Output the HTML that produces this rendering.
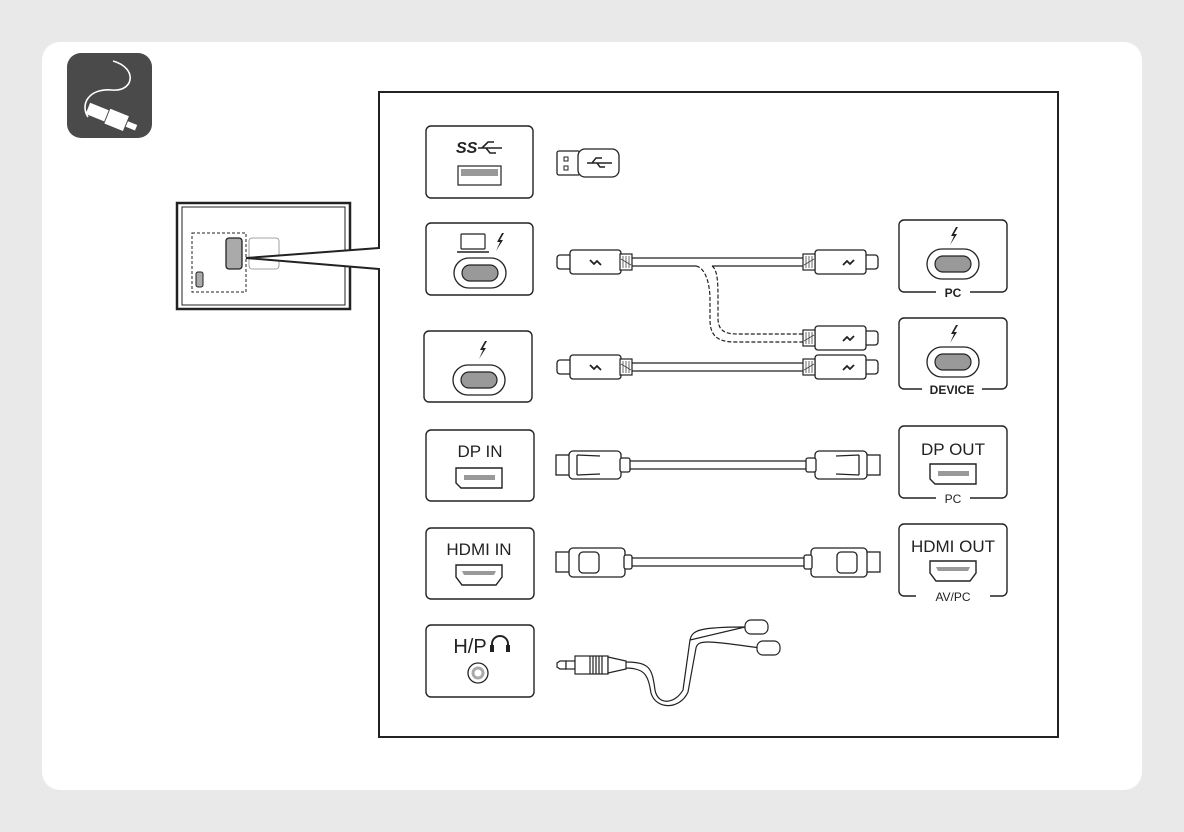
<!DOCTYPE html>
<html><head><meta charset="utf-8"><style>
html,body{margin:0;padding:0;background:#e9e9e9;}
svg{display:block}
text{font-family:"Liberation Sans",sans-serif;fill:#222}
</style></head><body>
<svg width="1184" height="832" viewBox="0 0 1184 832" xmlns="http://www.w3.org/2000/svg">
<defs>
  <path id="bolt" d="M3,-9 L-2,0 L1,0 L-3,9 L4,-2 L1,-2 L5,-9 Z" fill="#222"/>
  <g id="tbL">
    <rect x="557" y="-7" width="15" height="14" rx="3" fill="#fff" stroke="#222" stroke-width="1.3"/>
    <rect x="570" y="-12" width="51" height="24" rx="3" fill="#fff" stroke="#222" stroke-width="1.3"/>
    <rect x="620" y="-8" width="12" height="16" fill="#fff" stroke="#222" stroke-width="1.2"/>
    <path d="M623,-6 L623,6 M626,-6 L626,6 M629,-6 L629,6 M621,-3 L631,3" stroke="#444" stroke-width="0.8"/>
    <path d="M590,-2 L594,2 L597,-1 L601,3" stroke="#222" stroke-width="1.8" fill="none"/>
  </g>
  <g id="tbR">
    <rect x="863" y="-7" width="15" height="14" rx="3" fill="#fff" stroke="#222" stroke-width="1.3"/>
    <rect x="815" y="-12" width="51" height="24" rx="3" fill="#fff" stroke="#222" stroke-width="1.3"/>
    <rect x="803" y="-8" width="12" height="16" fill="#fff" stroke="#222" stroke-width="1.2"/>
    <path d="M806,-6 L806,6 M809,-6 L809,6 M812,-6 L812,6 M804,3 L814,-3" stroke="#444" stroke-width="0.8"/>
    <path d="M843,3 L847,-1 L850,2 L854,-2" stroke="#222" stroke-width="1.8" fill="none"/>
  </g>
  <g id="tcport">
    <rect x="-26" y="-15" width="52" height="30" rx="15" fill="#fff" stroke="#222" stroke-width="1.3"/>
    <rect x="-18" y="-8" width="36" height="16" rx="8" fill="#999" stroke="#222" stroke-width="1.2"/>
  </g>
  <g id="dpport">
    <path d="M-23,-10 L23,-10 L23,10 L-18,10 L-23,5 Z" fill="#fff" stroke="#222" stroke-width="1.4"/>
    <rect x="-15" y="-3" width="31" height="5" fill="#999"/>
  </g>
  <g id="hdport">
    <path d="M-23,-10 L23,-10 L23,2 L17,10 L-17,10 L-23,2 Z" fill="#fff" stroke="#222" stroke-width="1.4"/>
    <path d="M-17,-4 L17,-4 L15,0 L-15,0 Z" fill="#999"/>
  </g>
</defs>
<rect x="42" y="42" width="1100" height="748" rx="18" fill="#fff"/>
<!-- icon -->
<rect x="67" y="53" width="85" height="85" rx="14" fill="#4b4a4b"/>
<path d="M113,61 C138,68 134,92 112,90 C88,88 80,105 88,117" stroke="#fff" stroke-width="1.6" fill="none"/>
<g transform="translate(112,118) rotate(22)">
  <rect x="-26" y="-6" width="20" height="12" fill="#fff"/>
  <rect x="-5" y="-8" width="20" height="16" fill="#fff"/>
  <rect x="16" y="-3" width="10" height="6" fill="#fff"/>
</g>
<!-- small monitor -->
<rect x="177" y="203" width="173" height="106" fill="#fff" stroke="#222" stroke-width="2.5"/>
<rect x="182" y="207" width="163" height="98" fill="#fff" stroke="#222" stroke-width="1"/>
<rect x="192" y="233" width="54" height="59" fill="none" stroke="#222" stroke-width="1" stroke-dasharray="3,2"/>
<rect x="226" y="238" width="16" height="31" rx="3" fill="#aaa" stroke="#222" stroke-width="1.3"/>
<rect x="196" y="272" width="7" height="15" rx="2" fill="#aaa" stroke="#222" stroke-width="1"/>
<rect x="249" y="238" width="30" height="31" rx="3" fill="#fff" stroke="#888" stroke-width="0.8"/>
<path d="M379,248 L246,258 L379,269" fill="#fff" stroke="#222" stroke-width="2"/>
<!-- main box -->
<rect x="379" y="92" width="679" height="645" fill="#fff" stroke="#222" stroke-width="2"/>
<rect x="378" y="249" width="3" height="19" fill="#fff"/>

<!-- left port boxes -->
<g fill="#fff" stroke="#222" stroke-width="1.4">
<rect x="426" y="126" width="107" height="72" rx="5"/>
<rect x="426" y="223" width="107" height="72" rx="5"/>
<rect x="424" y="331" width="108" height="71" rx="5"/>
<rect x="426" y="430" width="108" height="71" rx="5"/>
<rect x="426" y="528" width="108" height="71" rx="5"/>
<rect x="426" y="625" width="108" height="72" rx="5"/>
</g>
<!-- USB -->
<text x="456" y="153" font-size="16" font-weight="bold" font-style="italic">SS</text>
<path d="M478,148 L502,148 M482,148 L488,142 L494,142 M486,148 L490,153 L496,153" stroke="#222" stroke-width="1.6" fill="none"/>
<rect x="458" y="166" width="43" height="19" fill="#fff" stroke="#222" stroke-width="1.2"/>
<rect x="461" y="169" width="37" height="7" fill="#999"/>
<rect x="557" y="151" width="23" height="24" rx="2" fill="#fff" stroke="#222" stroke-width="1.3"/>
<rect x="578" y="149" width="41" height="28" rx="7" fill="#fff" stroke="#222" stroke-width="1.3"/>
<rect x="564" y="157" width="4" height="4" fill="none" stroke="#222"/><rect x="564" y="166" width="4" height="4" fill="none" stroke="#222"/>
<path d="M587,163 L612,163 M592,163 L596,158 L602,158 M597,163 L600,167 L605,167" stroke="#222" stroke-width="1.5" fill="none"/>
<!-- TB left 1 -->
<rect x="461" y="234" width="24" height="15" rx="1" fill="#fff" stroke="#222" stroke-width="1.2"/>
<path d="M457,252 L489,252" stroke="#222" stroke-width="1.4"/>
<use href="#bolt" transform="translate(499,242)"/>
<use href="#tcport" transform="translate(480,273)"/>
<use href="#bolt" transform="translate(482,350)"/>
<use href="#tcport" transform="translate(479,380)"/>
<!-- right boxes -->
<g fill="#fff" stroke="#222" stroke-width="1.4">
<rect x="899" y="220" width="108" height="72" rx="5"/>
<rect x="899" y="318" width="108" height="71" rx="5"/>
<rect x="899" y="426" width="108" height="72" rx="5"/>
<rect x="899" y="524" width="108" height="72" rx="5"/>
</g>
<g fill="#fff">
<rect x="936" y="286" width="34" height="12"/>
<rect x="922" y="383" width="60" height="12"/>
<rect x="936" y="492" width="34" height="12"/>
<rect x="916" y="590" width="74" height="12"/>
</g>
<text x="953" y="297" font-size="12" font-weight="bold" text-anchor="middle">PC</text>
<text x="952" y="394" font-size="12" font-weight="bold" text-anchor="middle">DEVICE</text>
<text x="953" y="503" font-size="12" text-anchor="middle">PC</text>
<text x="953" y="601" font-size="12" text-anchor="middle">AV/PC</text>
<use href="#bolt" transform="translate(953,236)"/>
<use href="#tcport" transform="translate(953,264)"/>
<use href="#bolt" transform="translate(953,334)"/>
<use href="#tcport" transform="translate(953,362)"/>
<text x="953" y="455" font-size="17" text-anchor="middle">DP OUT</text>
<use href="#dpport" transform="translate(953,474)"/>
<text x="953" y="552" font-size="17" text-anchor="middle">HDMI OUT</text>
<use href="#hdport" transform="translate(953,571)"/>
<text x="480" y="457" font-size="17" text-anchor="middle">DP IN</text>
<use href="#dpport" transform="translate(479,478)"/>
<text x="479" y="555" font-size="17" text-anchor="middle">HDMI IN</text>
<use href="#hdport" transform="translate(479,575)"/>
<text x="470" y="653" font-size="20" text-anchor="middle">H/P</text>
<path d="M492,651 L492,644 A8,8 0 0 1 508,644 L508,651" stroke="#222" stroke-width="2" fill="none"/>
<rect x="490" y="645" width="4" height="7" fill="#222"/><rect x="506" y="645" width="4" height="7" fill="#222"/>
<circle cx="478" cy="673" r="10" fill="#fff" stroke="#222" stroke-width="1.3"/>
<circle cx="478" cy="673" r="6.5" fill="#aaa"/>
<circle cx="478" cy="673" r="3.5" fill="#fff"/>

<!-- TB cables -->
<g fill="none" stroke="#222" stroke-width="1.2">
<path d="M632,258 L803,258 M632,266 L696,266 M712,266 L803,266"/>
<path d="M632,363 L803,363 M632,371 L803,371"/>
<path d="M696,266 C706,268 710,285 710,300 L710,320 C710,336 718,342 735,342 L803,342" stroke-dasharray="4,2"/>
<path d="M712,266 C718,270 718,285 718,300 L718,318 C718,330 724,334 737,334 L803,334" stroke-dasharray="4,2"/>
</g>
<use href="#tbL" transform="translate(0,262)"/>
<use href="#tbR" transform="translate(0,262)"/>
<use href="#tbR" transform="translate(0,338)"/>
<use href="#tbL" transform="translate(0,367)"/>
<use href="#tbR" transform="translate(0,367)"/>

<!-- DP cable -->
<g fill="#fff" stroke="#222" stroke-width="1.3">
<path d="M630,461 L806,461 M630,469 L806,469" fill="none"/>
<rect x="556" y="455" width="14" height="20"/>
<rect x="569" y="451" width="52" height="28" rx="4"/>
<rect x="620" y="458" width="10" height="14" rx="2"/>
<rect x="866" y="455" width="14" height="20"/>
<rect x="815" y="451" width="52" height="28" rx="4"/>
<rect x="806" y="458" width="10" height="14" rx="2"/>
<path d="M577,455 L577,475 M577,455 L600,456 M577,475 L600,474" fill="none"/>
<path d="M859,455 L859,475 M859,455 L836,456 M859,475 L836,474" fill="none"/>
<!-- HDMI cable -->
<path d="M630,558 L806,558 M630,566 L806,566" fill="none"/>
<rect x="556" y="552" width="14" height="20"/>
<rect x="569" y="548" width="56" height="29" rx="4"/>
<rect x="624" y="555" width="8" height="14" rx="2"/>
<rect x="579" y="552" width="20" height="21" rx="4"/>
<rect x="866" y="552" width="14" height="20"/>
<rect x="811" y="548" width="56" height="29" rx="4"/>
<rect x="804" y="555" width="8" height="14" rx="2"/>
<rect x="837" y="552" width="20" height="21" rx="4"/>
</g>
<!-- headphone -->
<g fill="#fff" stroke="#222" stroke-width="1.2">
<path d="M625,662 C650,662 652,668 655,690 C658,706 675,704 683,690 L690,640 C692,630 700,627 745,627 M625,668 C645,668 648,675 651,693 C656,710 680,710 688,692 L696,648 C698,640 705,640 760,648 M690,640 L745,627" fill="none"/>
<path d="M557,663 L560,661 L566,661 L566,669 L560,669 L557,667 Z"/>
<rect x="566" y="661" width="9" height="8"/>
<rect x="575" y="656" width="33" height="18"/>
<path d="M590,656 L590,674 M593,656 L593,674 M596,656 L596,674 M599,656 L599,674 M602,656 L602,674"/>
<path d="M608,657 L626,661 L626,669 L608,673 Z"/>
<rect x="745" y="620" width="23" height="14" rx="6"/>
<rect x="757" y="641" width="23" height="14" rx="6"/>
</g>
</svg>
</body></html>
